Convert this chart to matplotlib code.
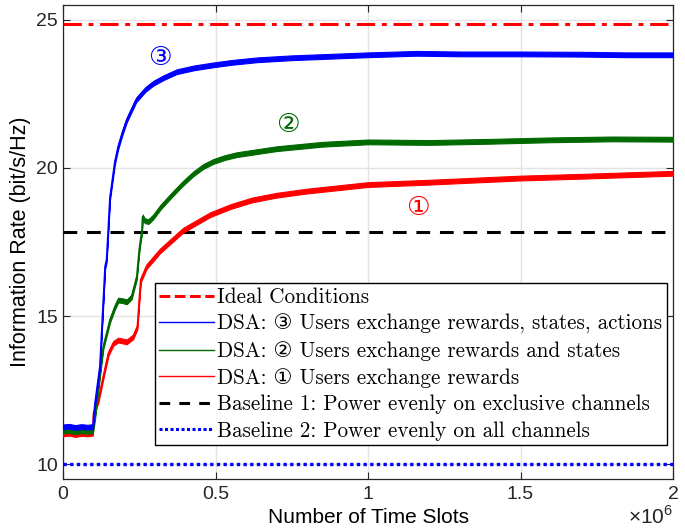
import numpy as np
import matplotlib
matplotlib.use("Agg")
import matplotlib.pyplot as plt
from matplotlib.lines import Line2D
from matplotlib.ticker import FuncFormatter

# ---------------- data (x in time slots) ----------------
x_scale = 1e6
blue_x = [0, 0.02, 0.04, 0.06, 0.08, 0.098, 0.105, 0.121, 0.138, 0.143, 0.154, 0.17, 0.181,
          0.195, 0.209, 0.24, 0.27, 0.296, 0.33, 0.373, 0.43, 0.493, 0.55, 0.635, 0.75,
          0.85, 1.0, 1.16, 1.3, 1.49, 1.7, 1.85, 2.0]
blue_y = [11.26, 11.28, 11.24, 11.27, 11.25, 11.27, 12.06, 13.29, 16.67, 16.9, 19.0, 20.2, 20.72,
          21.2, 21.62, 22.3, 22.65, 22.86, 23.05, 23.25, 23.38, 23.48, 23.56, 23.65, 23.72,
          23.76, 23.82, 23.87, 23.85, 23.85, 23.84, 23.82, 23.82]

green_x = [0, 0.02, 0.04, 0.06, 0.08, 0.098, 0.105, 0.116, 0.132, 0.154, 0.17, 0.181, 0.195,
           0.209, 0.225, 0.242, 0.25, 0.256, 0.2585, 0.261, 0.268, 0.28, 0.296, 0.32, 0.351,
           0.39, 0.427, 0.46, 0.493, 0.53, 0.57, 0.635, 0.7, 0.85, 1.0, 1.2, 1.4, 1.6, 1.8, 2.0]
green_y = [11.12, 11.14, 11.1, 11.13, 11.11, 11.13, 11.6, 12.6, 13.96, 14.86, 15.3, 15.54, 15.52,
           15.48, 15.65, 16.33, 17.23, 17.7, 17.8, 18.35, 18.22, 18.19, 18.35, 18.68, 19.03,
           19.45, 19.8, 20.05, 20.22, 20.35, 20.45, 20.55, 20.65, 20.8, 20.88, 20.86, 20.9,
           20.95, 20.98, 20.97]

red_x = [0, 0.02, 0.04, 0.06, 0.08, 0.098, 0.1, 0.116, 0.132, 0.149, 0.165, 0.181, 0.209, 0.23,
         0.244, 0.25, 0.255, 0.274, 0.318, 0.394, 0.482, 0.55, 0.62, 0.7, 0.8, 1.0, 1.2,
         1.5, 1.7, 2.0]
red_y = [11.02, 11.05, 11.0, 11.04, 11.02, 11.05, 11.71, 12.16, 12.95, 13.74, 14.08, 14.19, 14.13,
         14.3, 14.64, 15.54, 16.22, 16.67, 17.2, 17.9, 18.42, 18.7, 18.92, 19.08, 19.22,
         19.44, 19.52, 19.66, 19.72, 19.82]

ideal_rate = 24.85
baseline1_rate = 17.85
baseline2_rate = 10.0

labels = ["Ideal Conditions",
          "DSA: \u2462 Users exchange rewards, states, actions",
          "DSA: \u2461 Users exchange rewards and states",
          "DSA: \u2460 Users exchange rewards",
          "Baseline 1: Power evenly on exclusive channels",
          "Baseline 2: Power evenly on all channels"]
annots = ["\u2462", "\u2461", "\u2460"]
annot_x = [0.318, 0.738, 1.164]
annot_y = [23.7, 21.45, 18.65]

xticks = [0, 0.5, 1, 1.5, 2]
yticks = [10, 15, 20, 25]

# ---------------- style ----------------
c_blue = (0, 0, 1)
c_green = "#006a00"
c_red = (1, 0, 0)
spread = 0.08
sans = ["Liberation Sans", "DejaVu Sans"]
serif = ["cmr10", "DejaVu Sans"]
plt.rcParams["mathtext.fontset"] = "custom"
plt.rcParams["mathtext.rm"] = "Liberation Sans"
plt.rcParams["font.family"] = sans

fig = plt.figure(figsize=(6.85, 5.29), dpi=100)
ax = fig.add_axes([0.092, 0.0945, 0.8905, 0.896])

def to_x(v):
    return np.asarray(v) * x_scale

ax.axhline(ideal_rate, color=c_red, lw=2.2, dashes=(6, 2.2, 1.6, 2.2), zorder=3)
for xs, ys, col in [(red_x, red_y, c_red), (green_x, green_y, c_green), (blue_x, blue_y, c_blue)]:
    xx = to_x(xs)
    yy = np.asarray(ys)
    ax.fill_between(xx, yy - spread, yy + spread, color=col, lw=0.8, ec=col, zorder=4)
    ax.plot(xx, yy, color=col, lw=1.3, zorder=4)
ax.axhline(baseline1_rate, color="black", lw=2.2, dashes=(4.5, 3.2), zorder=3)
ax.axhline(baseline2_rate, color=c_blue, lw=2.4, dashes=(1, 1), zorder=3)

for t, xv, yv, col in zip(annots, annot_x, annot_y, [c_blue, c_green, c_red]):
    ax.text(xv * x_scale, yv, t, color=col, fontsize=19, ha="center", va="center",
            family=serif, zorder=5)

ax.set_xlim(0, 2 * x_scale)
ax.set_ylim(9.5, 25.5)
ax.set_xticks([v * x_scale for v in xticks])
ax.set_yticks(yticks)
ax.xaxis.set_major_formatter(FuncFormatter(lambda v, p: f"{v / x_scale:g}"))
ax.text(1.0, -0.094, r"$\times10^{6}$", transform=ax.transAxes, ha="right", va="baseline",
        fontsize=15, color="#262626")
ax.grid(True, color="#e3e3e3", lw=1.0, zorder=0)
ax.set_axisbelow(True)
ax.tick_params(direction="in", top=True, right=True, labelsize=14, length=5, width=0.8,
               colors="#262626")
ax.tick_params(axis="x", pad=5)
for s in ax.spines.values():
    s.set_linewidth(0.9)
    s.set_color("#262626")

ax.set_xlabel("Number of Time Slots", fontsize=15, labelpad=3.5)
ax.set_ylabel("Information Rate (bit/s/Hz)", fontsize=15.5, labelpad=4)

handles = [Line2D([], [], color=c_red, lw=2.2, dashes=(3.5, 1.5, 3.5, 1.5)),
           Line2D([], [], color=c_blue, lw=1.0),
           Line2D([], [], color=c_green, lw=1.0),
           Line2D([], [], color=c_red, lw=1.0),
           Line2D([], [], color="black", lw=2.2, dashes=(3.5, 3.0)),
           Line2D([], [], color=c_blue, lw=2.2, dashes=(1, 0.8))]
leg = ax.legend(handles, labels, loc="upper left", bbox_to_anchor=(0.151, 0.413),
                prop={"family": serif, "size": 15.2}, frameon=True, fancybox=False,
                edgecolor="black", framealpha=1, borderpad=0.2, labelspacing=0.33,
                handlelength=2.6, handletextpad=0.15, borderaxespad=0)
leg.get_frame().set_linewidth(1.0)
leg.set_zorder(6)

fig.savefig("out.png", dpi=100)
